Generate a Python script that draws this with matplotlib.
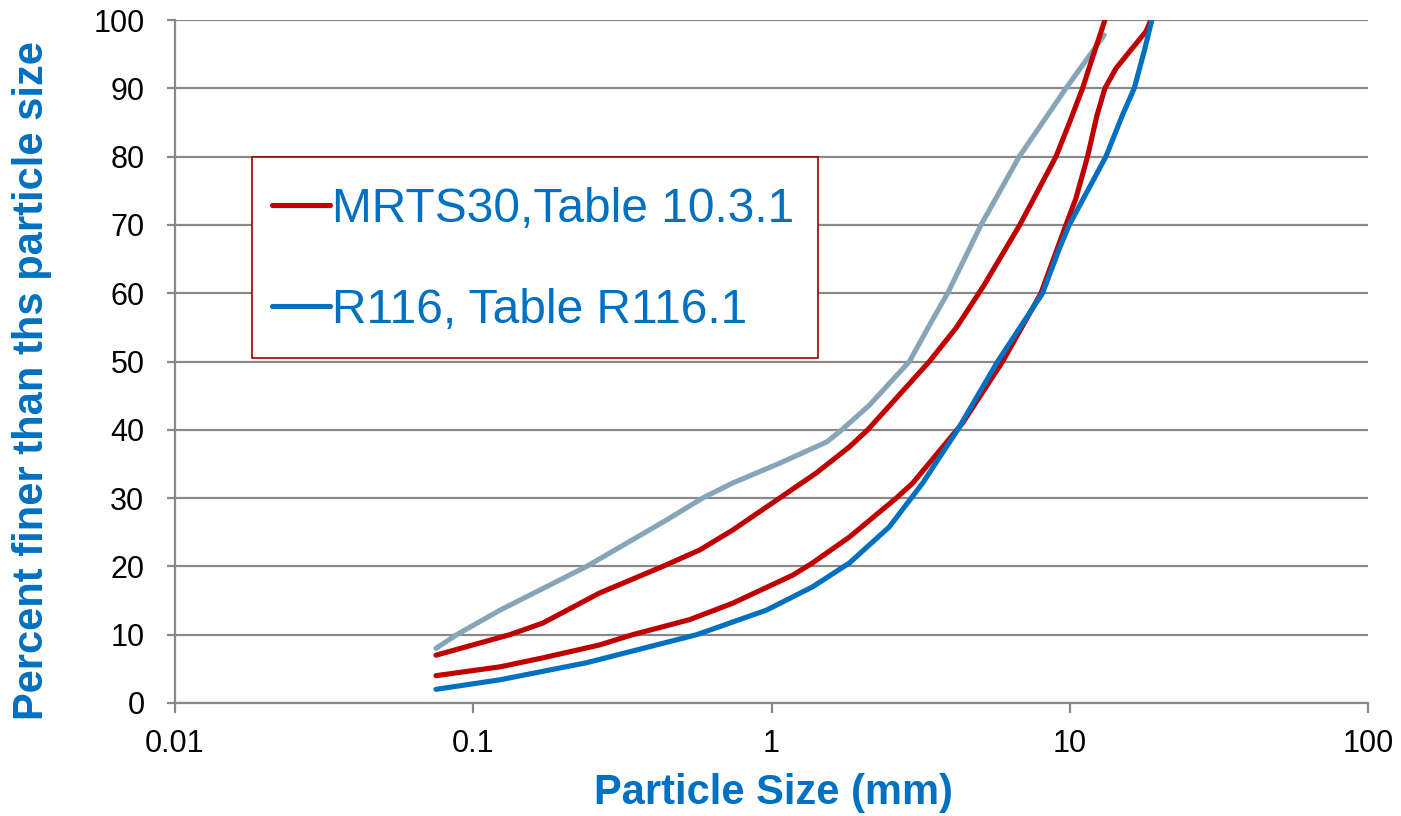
import numpy as np
import matplotlib.pyplot as plt
from matplotlib.lines import Line2D
from matplotlib.patches import Rectangle

plt.rcParams["font.family"] = ["Liberation Sans", "DejaVu Sans"]

# MRTS30 upper grading limit
mrts_upper_size = [0.075, 0.1325, 0.171, 0.265, 0.432, 0.574, 0.740, 1.064, 1.415, 1.825,
                   2.102, 2.617, 3.383, 4.157, 5.131, 6.80, 8.991, 9.962, 11.04, 11.92, 13.12]
mrts_upper_pct = [7.0, 10.0, 11.7, 16.1, 20.0, 22.4, 25.3, 30.0, 33.7, 37.5,
                  40.0, 44.6, 50.0, 54.9, 61.0, 70.0, 80.0, 84.9, 90.0, 94.5, 100.0]

# MRTS30 lower grading limit
mrts_lower_size = [0.075, 0.123, 0.171, 0.265, 0.342, 0.531, 0.740, 1.176, 1.372, 1.825,
                   2.62, 2.975, 4.374, 5.955, 8.007, 9.712, 10.49, 11.47, 12.35, 13.12,
                   14.28, 16.23, 18.0, 18.71]
mrts_lower_pct = [4.0, 5.3, 6.6, 8.5, 10.0, 12.2, 14.6, 18.7, 20.5, 24.3,
                  30.0, 32.2, 41.0, 50.0, 60.0, 70.0, 73.9, 80.0, 86.1, 90.0,
                  92.9, 95.9, 98.3, 100.0]

# R116 grading
r116_size = [0.075, 0.123, 0.240, 0.561, 0.962, 1.372, 1.825, 2.485, 3.212, 4.208,
             5.731, 8.107, 9.222, 9.962, 13.22, 15.03, 16.45, 17.76, 18.85]
r116_pct = [2.0, 3.4, 5.9, 10.0, 13.6, 17.0, 20.5, 25.8, 32.2, 40.0,
            50.0, 60.0, 66.5, 70.0, 80.0, 86.1, 90.0, 95.4, 100.0]

# second R116 limit (no legend entry)
r116_upper_size = [0.075, 0.088, 0.123, 0.240, 0.445, 0.587, 0.740, 1.064, 1.528, 1.690,
                   2.129, 2.900, 3.383, 3.896, 5.041, 6.771, 9.712, 13.05]
r116_upper_pct = [8.0, 10.0, 13.6, 20.0, 26.8, 30.0, 32.2, 35.1, 38.2, 39.7,
                  43.6, 50.0, 55.3, 60.0, 70.0, 80.0, 90.0, 97.8]

legend_labels = ["MRTS30,Table 10.3.1", "R116, Table R116.1"]
x_ticks = [0.01, 0.1, 1, 10, 100]
x_tick_labels = ["0.01", "0.1", "1", "10", "100"]
y_ticks = list(range(0, 101, 10))

red = "#C00000"
blue = "#0070C0"
grey = "#87A5B8"
axis_grey = "#898989"
lw = 3.7

fig = plt.figure(figsize=(14.01, 8.16), dpi=100)
ax = fig.add_axes([175 / 1401, 1 - 703 / 816, 1193 / 1401, 683 / 816])

ax.plot(r116_upper_size, r116_upper_pct, color=grey, linewidth=lw, solid_capstyle="round", solid_joinstyle="round")
ax.plot(mrts_upper_size, mrts_upper_pct, color=red, linewidth=lw, solid_capstyle="round", solid_joinstyle="round")
ax.plot(mrts_lower_size, mrts_lower_pct, color=red, linewidth=lw, solid_capstyle="round", solid_joinstyle="round")
ax.plot(r116_size, r116_pct, color=blue, linewidth=lw, solid_capstyle="round", solid_joinstyle="round")

ax.set_xscale("log")
ax.set_xlim(0.01, 100)
ax.set_ylim(0, 100)
ax.set_xticks(x_ticks)
ax.set_xticklabels(x_tick_labels)
ax.xaxis.set_minor_locator(plt.NullLocator())
ax.set_yticks(y_ticks)

# grid and spines
ax.yaxis.grid(True, color=axis_grey, linewidth=1.6)
ax.set_axisbelow(True)
for side in ["top", "right"]:
    ax.spines[side].set_visible(False)
for side in ["left", "bottom"]:
    ax.spines[side].set_color(axis_grey)
    ax.spines[side].set_linewidth(1.6)
ax.tick_params(axis="y", length=6, width=1.6, color=axis_grey, pad=16, labelsize=22)
ax.tick_params(axis="x", length=7, width=1.6, color=axis_grey, pad=12, labelsize=22)

# axis titles
fig.text(32 / 1401, 1 - 381 / 816, "Percent finer than ths particle size", rotation=90,
         ha="center", va="center", fontsize=30, fontweight="bold", color=blue)
fig.text(773 / 1401, 1 - 793 / 816, "Particle Size (mm)",
         ha="center", va="center", fontsize=30, fontweight="bold", color=blue)

# legend box drawn separately so the padding matches
box = Rectangle(((252 - 175) / 1193, (703 - 358) / 683), (818 - 252) / 1193, (358 - 157) / 683,
                transform=ax.transAxes, facecolor="white", edgecolor="#9B0000",
                linewidth=1.2, zorder=4)
ax.add_patch(box)

handles = [Line2D([], [], color=red, linewidth=lw, solid_capstyle="round"),
           Line2D([], [], color=blue, linewidth=lw, solid_capstyle="round")]
leg = ax.legend(handles, legend_labels, loc="upper left",
                bbox_to_anchor=((272 - 175) / 1193, (703 - 187) / 683), borderaxespad=0,
                fontsize=34.5, frameon=False, handlelength=1.2,
                handletextpad=0.06, labelspacing=1.16, borderpad=0)
leg.set_zorder(5)
for text in leg.get_texts():
    text.set_color(blue)

plt.savefig("out.png", dpi=100)
